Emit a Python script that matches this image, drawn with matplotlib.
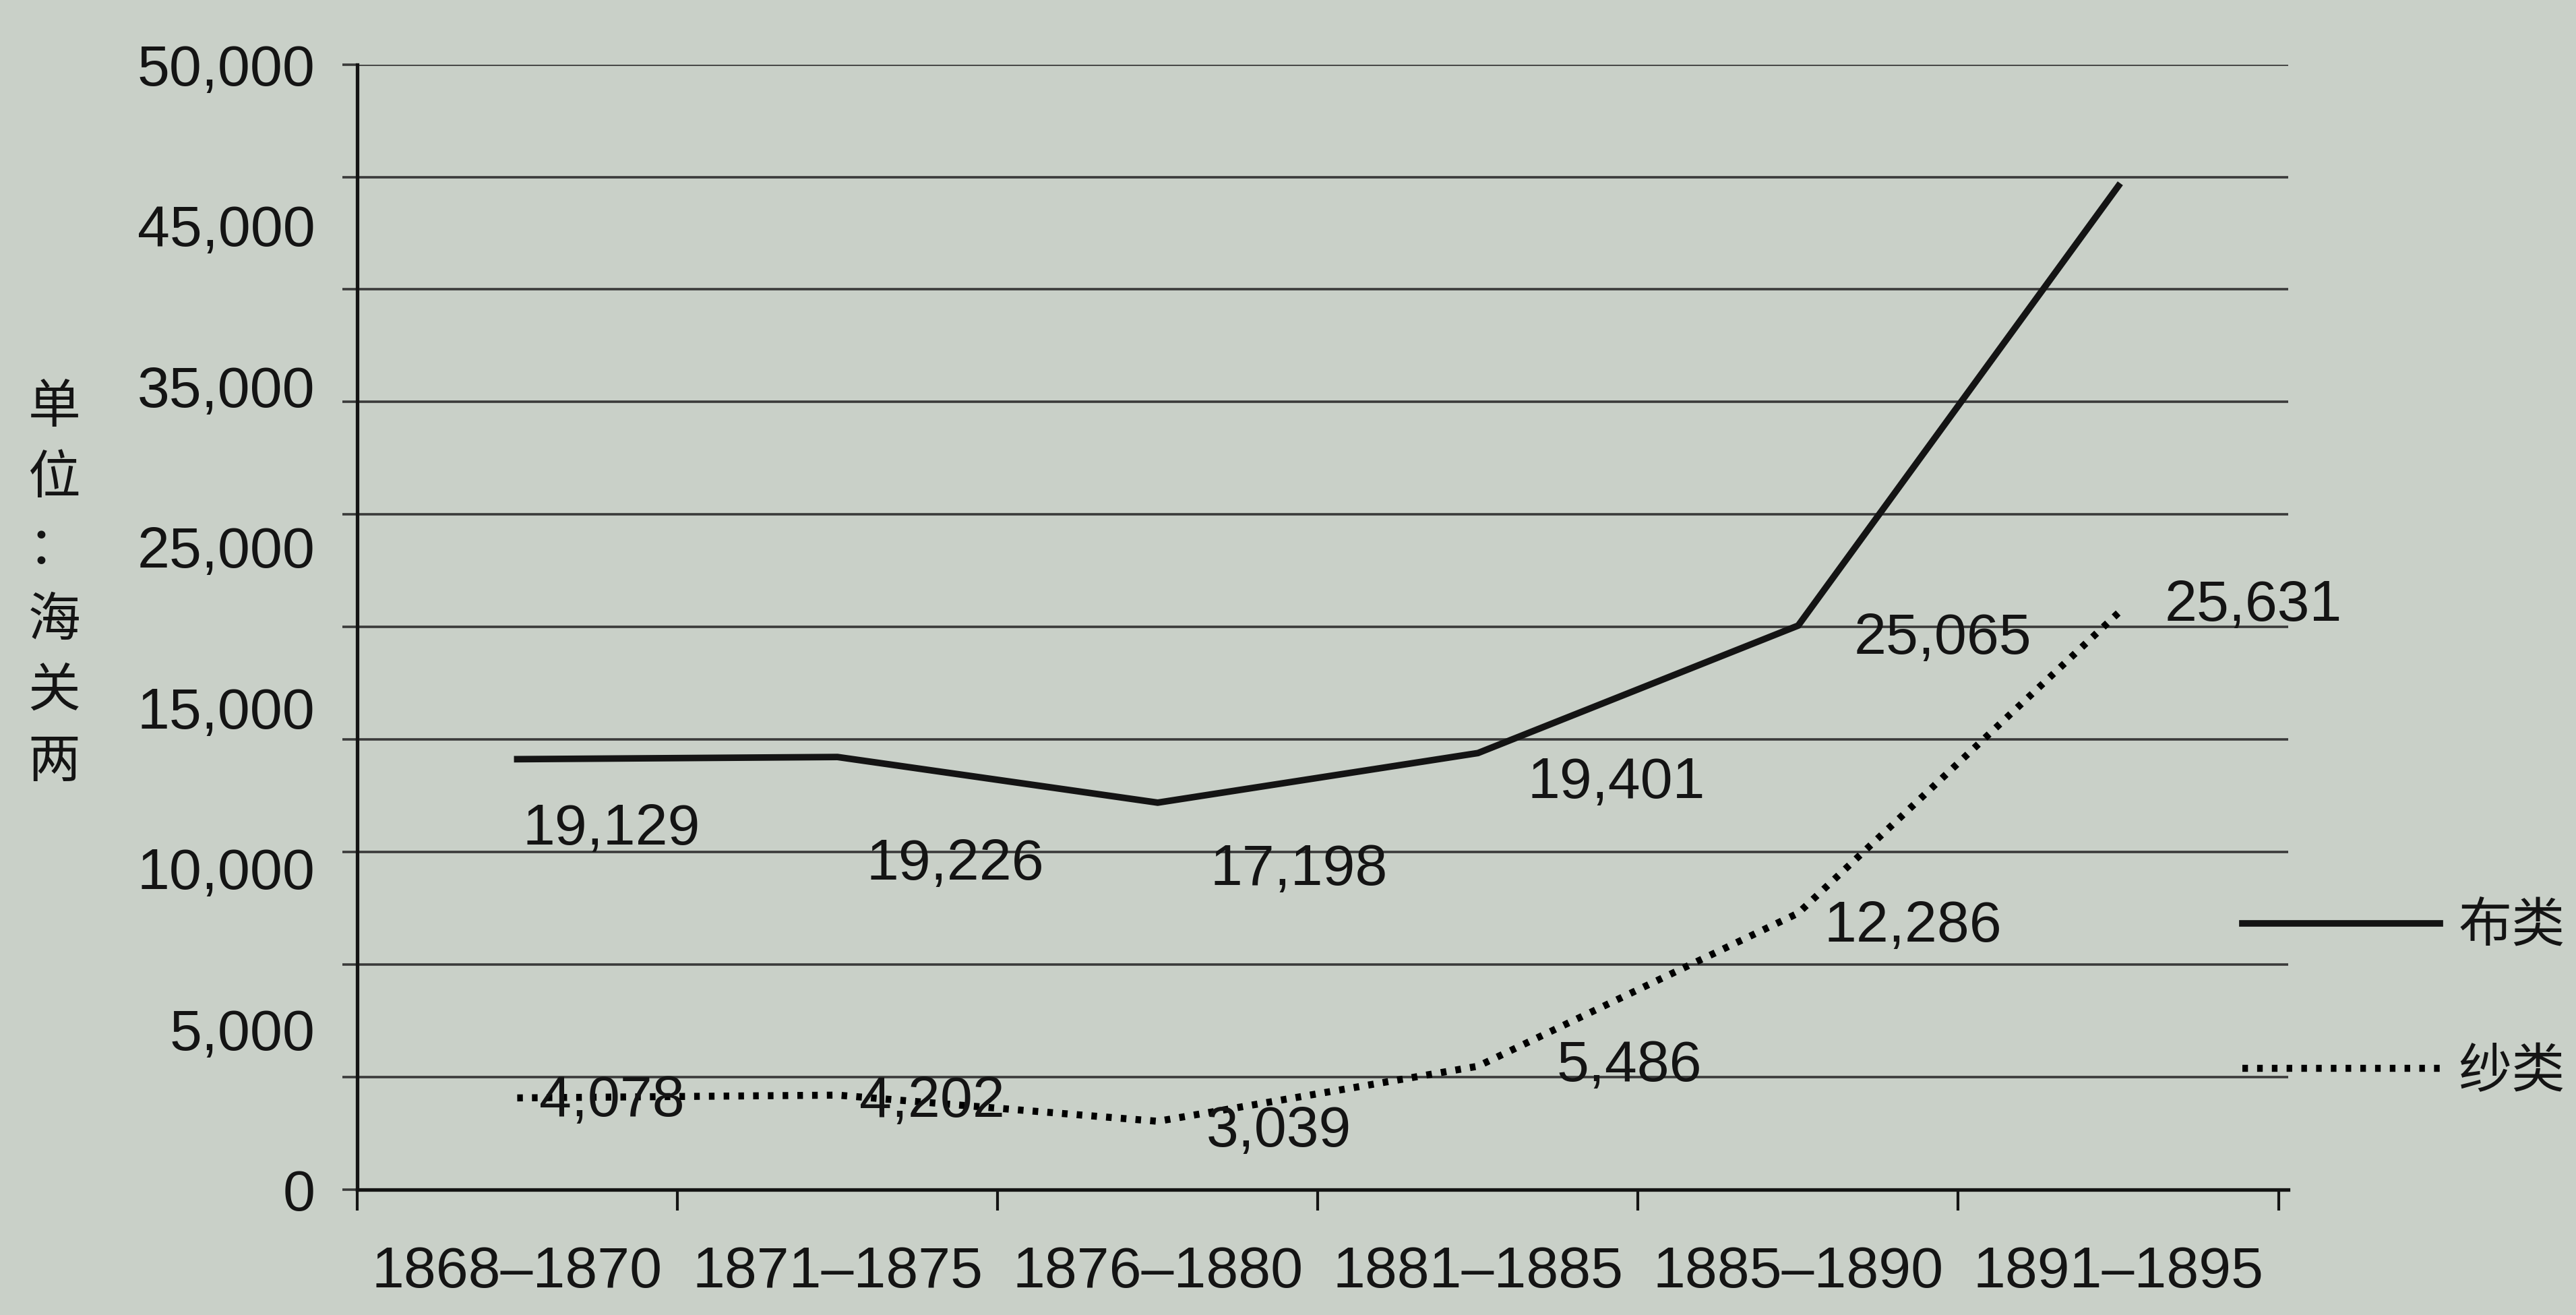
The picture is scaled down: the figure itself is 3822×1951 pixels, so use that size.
import matplotlib
matplotlib.use("Agg")
import matplotlib.pyplot as plt
import numpy as np

# ---- data ----
periods = ["1868–1870", "1871–1875", "1876–1880", "1881–1885", "1885–1890", "1891–1895"]
cloth = [19129, 19226, 17198, 19401, 25065, 44600]     # 布类
yarn = [4078, 4202, 3039, 5486, 12286, 25631]          # 纱类
cloth_labels = ["19,129", "19,226", "17,198", "19,401", "25,065", None]
yarn_labels = ["4,078", "4,202", "3,039", "5,486", "12,286", "25,631"]
ytick_text = ["0", "5,000", "10,000", "15,000", "25,000", "35,000", "45,000", "50,000"]
series_names = ["布类", "纱类"]
ylabel = "单\n位\n：\n海\n关\n两"

# label offsets (pixels) relative to each point
cloth_off = [(140, -105), (175, -160), (210, -100), (205, -45), (215, -20), (0, 0)]
yarn_off = [(140, -5), (140, -10), (180, -15), (225, 0), (170, -20), (200, 10)]

BG = "#c9d0c8"
INK = "#141414"
FS = 62

plt.rcParams["font.family"] = ["Liberation Sans", "Noto Sans CJK SC", "DejaVu Sans"]

fig = plt.figure(figsize=(38.23, 19.51), dpi=100, facecolor=BG)
ax = fig.add_axes([0.1386, 0.0953, 0.888 - 0.1386, 0.951 - 0.0953])
ax.set_facecolor(BG)
ax.yaxis.remove_overlapping_locs = False
ax.xaxis.remove_overlapping_locs = False

x = np.arange(len(periods))
ax.set_xlim(-0.5, 5.53)
ax.set_ylim(0, 50000)

# gridlines at every 5000
for v in range(5000, 50001, 5000):
    ax.axhline(v, color="#3a3a3a", lw=2.6, zorder=1)

l1, = ax.plot(x, cloth, color=INK, lw=7, solid_joinstyle="miter", zorder=3)
l2, = ax.plot(x, yarn, color="#000000", lw=7.5, linestyle=(0, (0.8, 1.3)),
              dash_capstyle="butt", zorder=3)

for xi, yi, lab, off in zip(x, cloth, cloth_labels, cloth_off):
    if lab:
        ax.annotate(lab, (xi, yi), xytext=off, textcoords="offset pixels",
                    ha="center", va="center", fontsize=FS, color=INK, zorder=4)
for xi, yi, lab, off in zip(x, yarn, yarn_labels, yarn_off):
    ax.annotate(lab, (xi, yi), xytext=off, textcoords="offset pixels",
                ha="center", va="center", fontsize=FS, color=INK, zorder=4)

# spines
for s in ["top", "right"]:
    ax.spines[s].set_visible(False)
for s in ["left", "bottom"]:
    ax.spines[s].set_linewidth(3.8)
    ax.spines[s].set_color(INK)

# y axis: small outward ticks at gridlines; labels on separate evenly spaced positions
ax.set_yticks(np.arange(0, 50001, 5000))
ax.set_yticklabels([])
ax.tick_params(axis="y", which="major", length=16, width=2.6, color="#3a3a3a", direction="out")
ax.set_yticks(np.linspace(0, 50000, len(ytick_text)), minor=True)
ax.set_yticklabels(ytick_text, minor=True)
ax.tick_params(axis="y", which="minor", length=0, pad=45, labelsize=FS, labelcolor=INK)

# x axis: ticks at boundaries, labels at centers
ax.set_xticks(np.arange(-0.5, 6, 1.0))
ax.set_xticklabels([])
ax.tick_params(axis="x", which="major", length=22, width=3, color=INK, direction="out")
ax.set_xticks(x, minor=True)
ax.set_xticklabels(periods, minor=True)
ax.tick_params(axis="x", which="minor", length=0, pad=60, labelsize=FS, labelcolor=INK)

# y label (stacked characters)
fig.text(0.021, 0.555, ylabel, ha="center", va="center", fontsize=56, color=INK,
         linespacing=1.42, family=["Noto Sans CJK SC", "DejaVu Sans"])

# legend
leg = ax.legend([l1, l2], series_names, loc="center left",
                bbox_to_anchor=(0.862, 0.24), bbox_transform=fig.transFigure,
                frameon=False, handlelength=3.7, handletextpad=0.35,
                labelspacing=1.7, borderaxespad=0,
                prop={"family": ["Noto Sans CJK SC", "DejaVu Sans"], "size": 57})
for t in leg.get_texts():
    t.set_color(INK)

fig.savefig("out.png", dpi=100, facecolor=BG)
